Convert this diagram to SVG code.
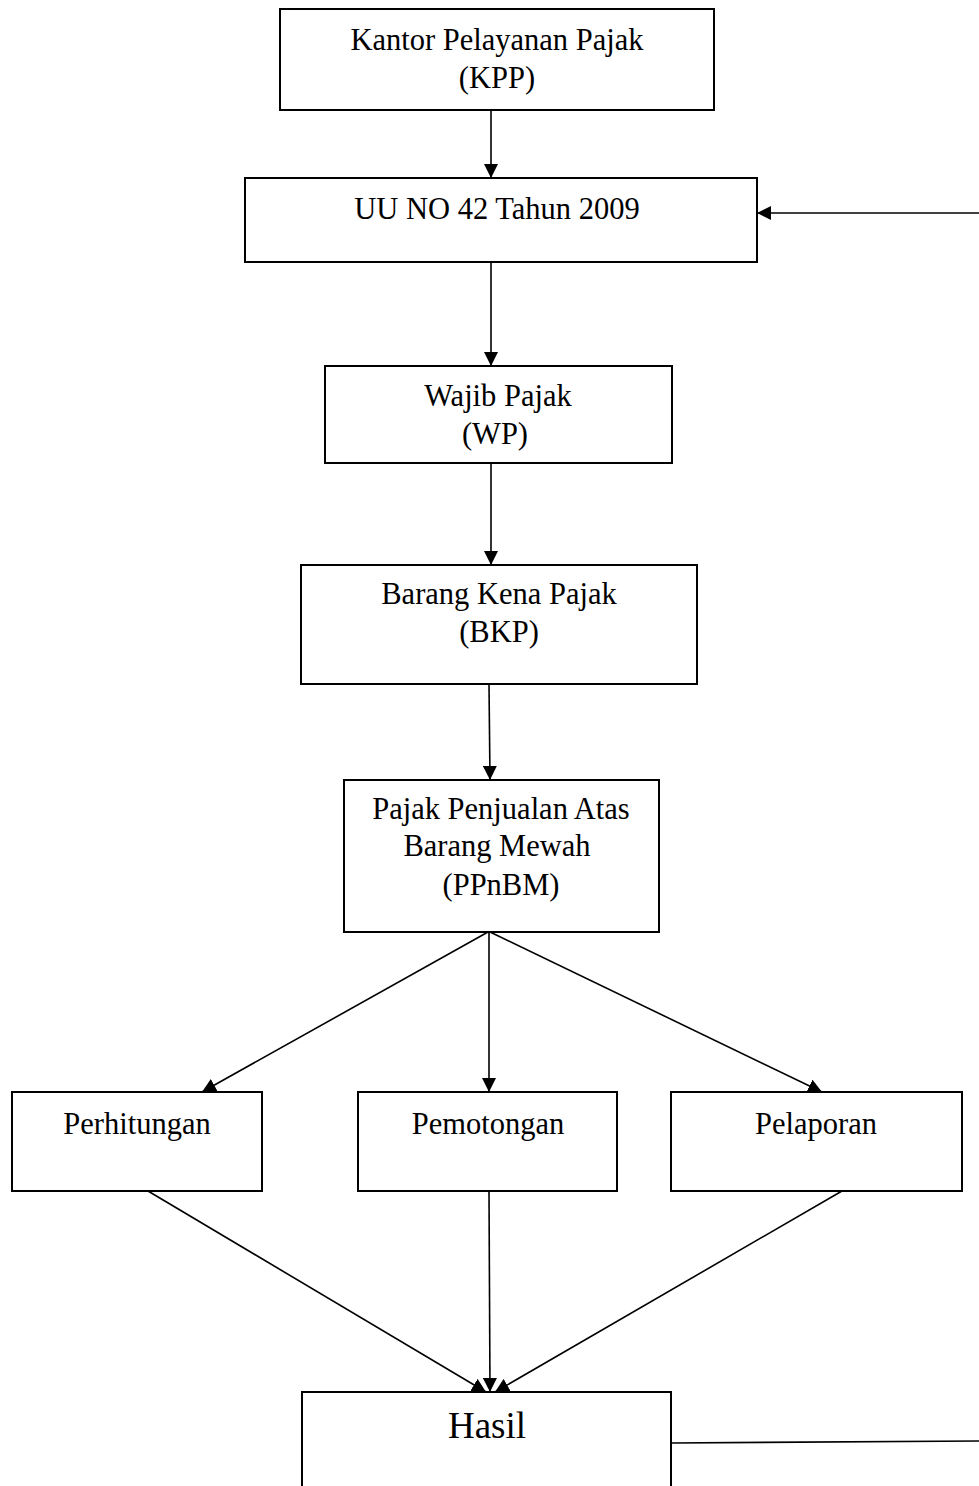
<svg xmlns="http://www.w3.org/2000/svg" width="979" height="1486" viewBox="0 0 979 1486">
<style>
.box{fill:#fff;stroke:#000;stroke-width:2}
.t{font-family:"Liberation Serif","Times New Roman",serif;font-size:30.5px;fill:#000;text-anchor:middle}
.c{stroke:#000;stroke-width:1.6;fill:none}
</style>
<defs>
<marker id="ah" viewBox="0 0 10 10" refX="10" refY="5" markerWidth="14" markerHeight="14" markerUnits="userSpaceOnUse" orient="auto">
<path d="M0,0 L10,5 L0,10 z" fill="#000"/>
</marker>
</defs>
<rect width="979" height="1486" fill="#fff"/>
<g id="connectors">
<line class="c" x1="491" y1="110" x2="491" y2="178" marker-end="url(#ah)"/>
<line class="c" x1="979" y1="213" x2="757" y2="213" marker-end="url(#ah)"/>
<line class="c" x1="491" y1="262" x2="491" y2="366" marker-end="url(#ah)"/>
<line class="c" x1="491" y1="463" x2="491" y2="565" marker-end="url(#ah)"/>
<line class="c" x1="489" y1="684" x2="490" y2="780" marker-end="url(#ah)"/>
<line class="c" x1="488" y1="932" x2="202" y2="1092" marker-end="url(#ah)"/>
<line class="c" x1="489" y1="932" x2="489" y2="1092" marker-end="url(#ah)"/>
<line class="c" x1="490" y1="932" x2="822" y2="1092" marker-end="url(#ah)"/>
<line class="c" x1="148" y1="1191" x2="486" y2="1392" marker-end="url(#ah)"/>
<line class="c" x1="489" y1="1191" x2="490" y2="1392" marker-end="url(#ah)"/>
<line class="c" x1="842" y1="1191" x2="495" y2="1392" marker-end="url(#ah)"/>
<line class="c" x1="671" y1="1443" x2="979" y2="1441"/>
</g>
<g id="kpp"><rect class="box" x="280" y="9" width="434" height="101"/><text class="t" x="497" y="50">Kantor Pelayanan Pajak</text><text class="t" x="497" y="88">(KPP)</text></g>
<g id="uu"><rect class="box" x="245" y="178" width="512" height="84"/><text class="t" x="497" y="219">UU NO 42 Tahun 2009</text></g>
<g id="wp"><rect class="box" x="325" y="366" width="347" height="97"/><text class="t" x="498" y="406">Wajib Pajak</text><text class="t" x="495" y="444">(WP)</text></g>
<g id="bkp"><rect class="box" x="301" y="565" width="396" height="119"/><text class="t" x="499" y="604">Barang Kena Pajak</text><text class="t" x="499" y="642">(BKP)</text></g>
<g id="ppnbm"><rect class="box" x="344" y="780" width="315" height="152"/><text class="t" x="501" y="819">Pajak Penjualan Atas</text><text class="t" x="497" y="856">Barang Mewah</text><text class="t" x="501" y="895">(PPnBM)</text></g>
<g id="perhitungan"><rect class="box" x="12" y="1092" width="250" height="99"/><text class="t" x="137" y="1134">Perhitungan</text></g>
<g id="pemotongan"><rect class="box" x="358" y="1092" width="259" height="99"/><text class="t" x="488" y="1134">Pemotongan</text></g>
<g id="pelaporan"><rect class="box" x="671" y="1092" width="291" height="99"/><text class="t" x="816" y="1134">Pelaporan</text></g>
<g id="hasil"><rect class="box" x="302" y="1392" width="369" height="110"/><text class="t" x="487" y="1438" style="font-size:37px">Hasil</text></g>
</svg>
